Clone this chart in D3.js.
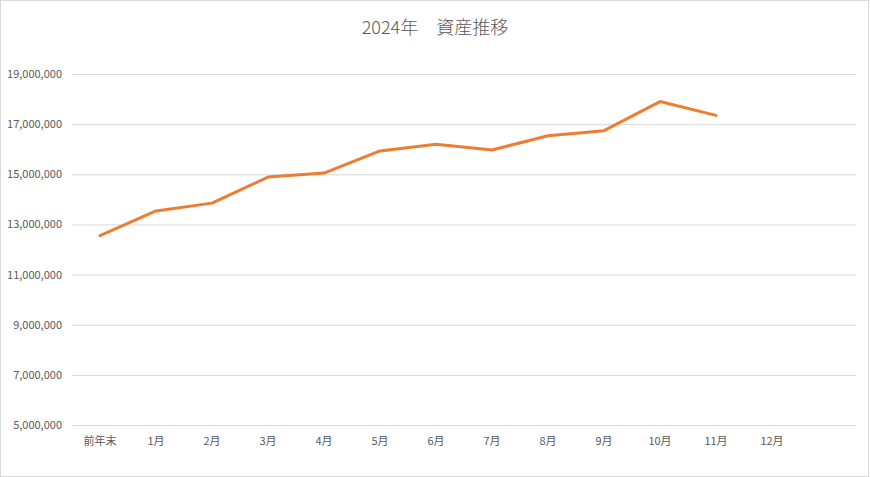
<!DOCTYPE html>
<html><head><meta charset="utf-8">
<script src="https://cdn.jsdelivr.net/npm/d3@7"></script>
<style>
html,body{margin:0;padding:0;background:#fff;}
svg{display:block;}
text{font-family:"Noto Sans CJK JP","Noto Sans",sans-serif;}
</style></head>
<body><svg id="chart" width="870" height="477"></svg>
<script>
const title = "2024年　資産推移";
const categories = ["前年末","1月","2月","3月","4月","5月","6月","7月","8月","9月","10月","11月","12月",""];
const values = [12550000,13540000,13850000,14890000,15050000,15930000,16200000,15970000,16540000,16740000,17900000,17350000,null];
const yTicks = [5000000,7000000,9000000,11000000,13000000,15000000,17000000,19000000];

const svg = d3.select("#chart");
const W = 870, H = 477;
const m = {left:72, right:14, top:74, bottom:52};

svg.append("rect").attr("x",0.5).attr("y",0.5).attr("width",W-2).attr("height",H-1)
  .attr("fill","#fff").attr("stroke","#d9d9d9");

const x = d3.scaleBand().domain(categories.map((c,i)=>i)).range([m.left, W-m.right]);
const y = d3.scaleLinear().domain([5000000,19000000]).range([H-m.bottom, m.top]);

const yAxis = d3.axisLeft(y).tickValues(yTicks).tickSize(-(W-m.right-m.left)).tickPadding(10)
  .tickFormat(d3.format(","));
const gy = svg.append("g").attr("transform",`translate(${m.left},0)`).call(yAxis);
gy.select(".domain").remove();
gy.selectAll(".tick line").attr("stroke","#d9d9d9").attr("stroke-width",1);
gy.selectAll(".tick text").attr("fill","#595959").attr("font-size",11);

const xAxis = d3.axisBottom(x).tickSize(0).tickPadding(12).tickFormat(i=>categories[i]);
const gx = svg.append("g").attr("transform",`translate(0,${H-m.bottom})`).call(xAxis);
gx.select(".domain").remove();
gx.selectAll(".tick text").attr("fill","#595959").attr("font-size",11);

const line = d3.line()
  .defined(d=>d!=null)
  .x((d,i)=>x(i)+x.bandwidth()/2)
  .y(d=>y(d));
svg.append("path").datum(values).attr("d",line)
  .attr("fill","none").attr("stroke","#ED7D31").attr("stroke-width",3)
  .attr("stroke-linejoin","round").attr("stroke-linecap","round");

svg.append("text").attr("x",W/2).attr("y",34).attr("text-anchor","middle")
  .attr("fill","#595959").attr("font-size",18).attr("font-weight",300).text(title);
</script></body></html>
